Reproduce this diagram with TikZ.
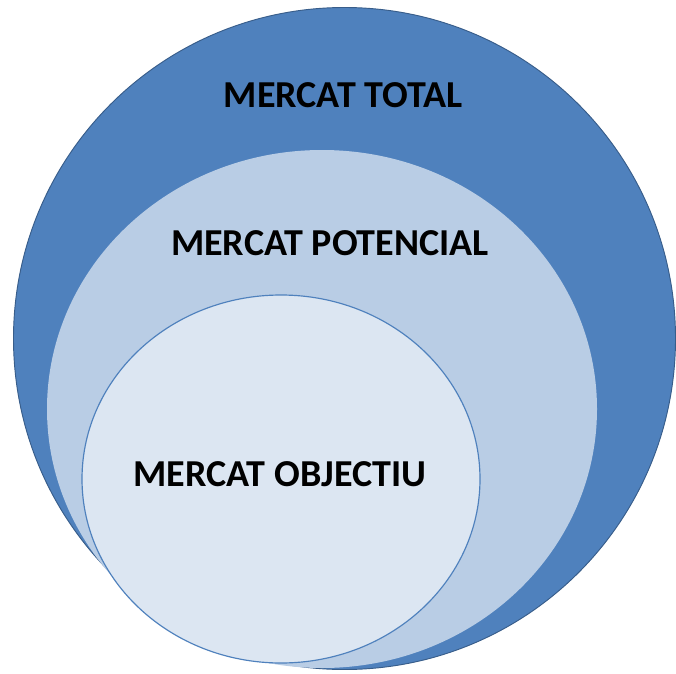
\documentclass[tikz,border=0pt]{standalone}
\usepackage{fontspec}
\setmainfont{Carlito}
\usepackage{xcolor}
\usepackage{tikz}
\definecolor{totalblue}{HTML}{4F81BD}
\definecolor{totalline}{HTML}{385D8A}
\definecolor{potblue}{HTML}{B9CDE5}
\definecolor{objblue}{HTML}{DCE6F2}
\tikzset{mercat/.style={font=\bfseries\fontsize{32.5}{32.5}\selectfont, text=black}}

\begin{document}
\begin{tikzpicture}[x=0.03cm,y=-0.03cm]
\useasboundingbox (0,0) rectangle (676,673);
\draw[totalline, fill=totalblue, line width=0.8pt] (344.5,338.5) ellipse (331 and 331);
\fill[potblue] (322,409) ellipse (275 and 259);
\draw[totalblue, fill=objblue, line width=1pt] (281,479) ellipse (199 and 184);
\node[mercat] (total) at (343,95) {MERCAT TOTAL};
\node[mercat] (potencial) at (330,243) {MERCAT POTENCIAL};
\node[mercat] (objectiu) at (280,474) {MERCAT OBJECTIU};
\end{tikzpicture}
\end{document}
